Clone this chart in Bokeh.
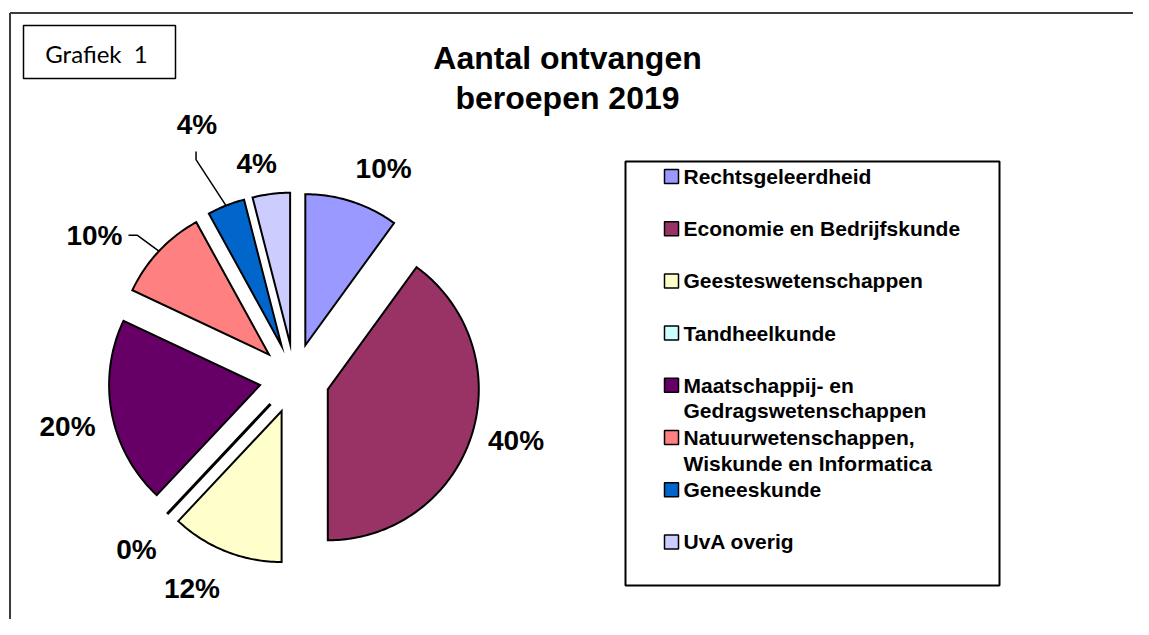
import numpy as np
from bokeh.plotting import figure
from bokeh.models import Range1d
from bokeh.core.properties import value
from bokeh.embed import file_html
from bokeh.resources import INLINE

# ---------------- data ----------------
categories = [
    "Rechtsgeleerdheid",
    "Economie en Bedrijfskunde",
    "Geesteswetenschappen",
    "Tandheelkunde",
    "Maatschappij- en\nGedragswetenschappen",
    "Natuurwetenschappen,\nWiskunde en Informatica",
    "Geneeskunde",
    "UvA overig",
]
shares = [10, 40, 12, 0, 20, 10, 4, 4]
title_lines = ["Aantal ontvangen", "beroepen 2019"]
tag_text = "Grafiek\u00a0 1"

# ---------------- styles ----------------
colors = ["#9999FF", "#993366", "#FFFFCC", "#CCFFFF", "#660066", "#FF8080", "#0066CC", "#CCCCFF"]
label_dist = [228, 230, 234, 233, 232, 246, 272, 218]
label_turn = [5, -2.4, 4.4, -0.5, -1.2, -7.6, 0.6, -2.8]
leader = [None, None, None, None, None, "right", "bottom", None]

W, H = 1133, 619


def X(px):
    return np.asarray(px, dtype=float)


def Y(py):
    return H - np.asarray(py, dtype=float)


p = figure(width=W, height=H, x_range=Range1d(0, W), y_range=Range1d(0, H),
           output_backend="svg", toolbar_location=None, min_border=0)
p.axis.visible = False
p.grid.visible = False
p.outline_line_color = None
p.background_fill_color = "white"
p.border_fill_color = "white"

BOLD = value("Liberation Sans")

# outer frame (top and left edges visible)
p.line(X([9.5, 1160]), Y([12.5, 12.5]), line_color="#3c3c3c", line_width=2)
p.line(X([9.5, 9.5]), Y([12.5, 660]), line_color="#3c3c3c", line_width=2)

# "Grafiek 1" tag box
p.rect(x=X([99]), y=Y([51.5]), width=152, height=53, fill_color="white",
       line_color="black", line_width=1.5)
p.text(x=X([96]), y=Y([53]), text=[tag_text], text_font=value("Lato"),
       text_font_size="24px", text_align="center", text_baseline="middle", text_color="black")

# title
p.text(x=X([567, 567]), y=Y([57, 97]), text=title_lines, text_font=BOLD, text_font_style="bold",
       text_font_size="32px", text_align="center", text_baseline="middle", text_color="black")

# ---------------- exploded pie ----------------
cx, cy, R, EXP = 294, 378, 151, 35
total = float(sum(shares))
cum = np.concatenate([[0.0], np.cumsum(shares)]) / total * 2 * np.pi
xs, ys, lw = [], [], []
lab_x, lab_y, lab_t = [], [], []
lead_xs, lead_ys = [], []
for i, v in enumerate(shares):
    a0, a1 = cum[i], cum[i + 1]
    am = (a0 + a1) / 2
    ox, oy = cx + EXP * np.sin(am), cy - EXP * np.cos(am)
    n = max(2, int(np.degrees(a1 - a0)) + 2)
    t = np.linspace(a0, a1, n)
    px_ = np.concatenate([[ox], ox + R * np.sin(t)])
    py_ = np.concatenate([[oy], oy - R * np.cos(t)])
    xs.append(X(px_))
    ys.append(Y(py_))
    lw.append(2 if v > 0 else 3)
    la = am + np.radians(label_turn[i])
    lx, ly = cx + label_dist[i] * np.sin(la), cy - label_dist[i] * np.cos(la)
    lab_x.append(lx)
    lab_y.append(ly)
    lab_t.append(f"{v}%")
    ex, ey = ox + R * np.sin(am), oy - R * np.cos(am)
    if leader[i] == "right":
        lead_xs.append(X([lx + 34, lx + 43, ex]))
        lead_ys.append(Y([ly, ly, ey]))
    elif leader[i] == "bottom":
        lead_xs.append(X([lx - 1, lx - 1, ex]))
        lead_ys.append(Y([ly + 27, ly + 35, ey]))

p.patches(xs, ys, fill_color=colors, line_color="black", line_width=lw, line_join="miter")
p.multi_line(lead_xs, lead_ys, line_color="black", line_width=1.5)
p.text(x=X(lab_x), y=Y(lab_y), text=lab_t, text_font=BOLD, text_font_style="bold",
       text_font_size="28px", text_align="center", text_baseline="middle", text_color="black")

# ---------------- legend ----------------
p.rect(x=X([812]), y=Y([373]), width=374, height=424, fill_color="white",
       line_color="black", line_width=2, level="underlay")
row0, row_step, line_step = 176, 52.2, 25.5
mk_x, mk_y, tx, ty, tt = [], [], [], [], []
for i, cat in enumerate(categories):
    ry = row0 + i * row_step
    mk_x.append(671)
    mk_y.append(ry)
    for j, line in enumerate(cat.split("\n")):
        tx.append(683)
        ty.append(ry + j * line_step)
        tt.append(line)
p.rect(x=X(mk_x), y=Y(mk_y), width=14, height=14, fill_color=colors,
       line_color="black", line_width=1.5)
p.text(x=X(tx), y=Y(ty), text=tt, text_font=BOLD, text_font_style="bold",
       text_font_size="21px", text_align="left", text_baseline="middle", text_color="black")

open("out.html", "w").write(file_html(p, INLINE))
